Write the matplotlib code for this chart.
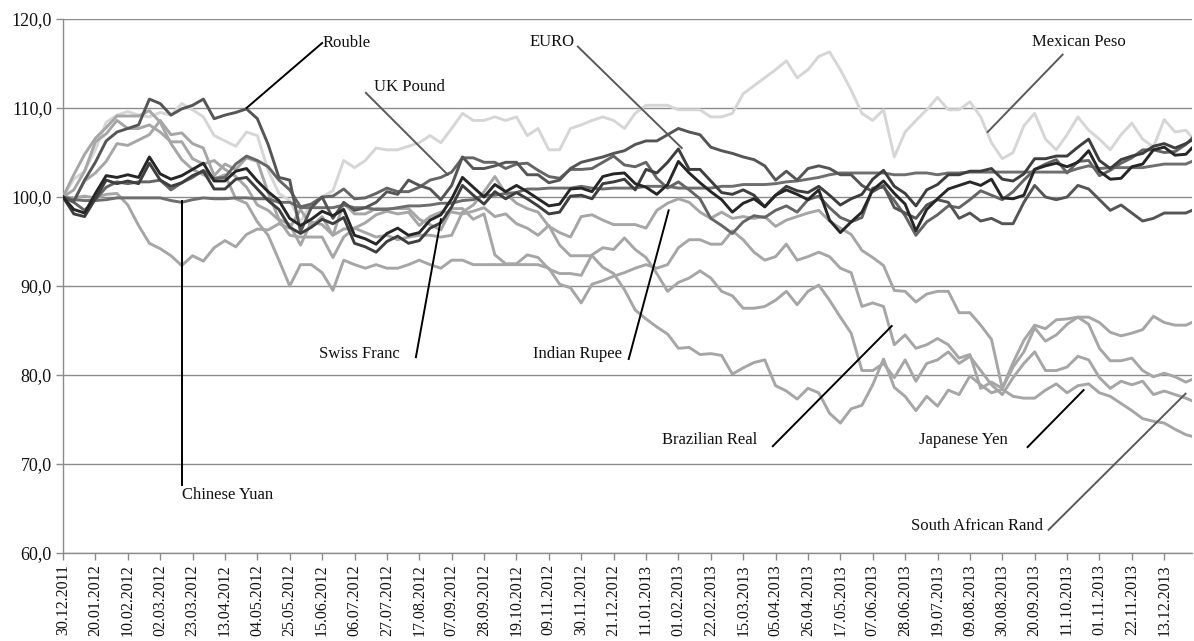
import numpy as np
import pandas as pd
import matplotlib
matplotlib.use("Agg")
import matplotlib.pyplot as plt
import matplotlib.dates as mdates
from matplotlib.ticker import FuncFormatter

plt.rcParams['font.family'] = ['Liberation Serif', 'DejaVu Serif']

# weekly observations (Fridays) from 30.12.2011, plus 31.12.2013
dates = list(pd.date_range('2011-12-30', periods=105, freq='7D')) + [pd.Timestamp('2013-12-31')]

euro = [100.0, 98.1, 97.8, 99.8, 101.9, 101.5, 101.8, 101.5, 103.8, 101.9,
        101.2, 101.6, 102.4, 102.9, 100.9, 100.9, 102.0, 102.2, 100.9, 99.6,
        98.6, 96.6, 95.9, 96.6, 97.5, 97.0, 97.7, 94.8, 94.4, 93.8,
        95.0, 95.6, 94.8, 95.1, 96.5, 97.1, 98.9, 101.3, 100.2, 99.2,
        100.6, 99.8, 100.5, 99.8, 99.0, 98.1, 98.3, 100.1, 100.2, 99.8,
        101.5, 101.7, 102.0, 100.8, 103.1, 102.7, 103.9, 105.4, 103.1, 103.1,
        101.8, 100.5, 100.3, 100.8, 100.2, 98.9, 100.2, 101.2, 100.7, 100.5,
        101.2, 100.2, 99.1, 99.8, 100.3, 102.0, 103.0, 101.2, 100.4, 99.0,
        100.8, 101.4, 102.5, 102.5, 102.9, 102.9, 103.2, 102.0, 101.8, 102.6,
        104.3, 104.3, 104.6, 104.6, 105.6, 106.5, 104.1, 103.2, 104.2, 104.6,
        104.9, 105.7, 106.0, 105.5, 106.0, 106.4]

swiss_franc = [100.0, 98.6, 98.2, 100.4, 102.4, 102.2, 102.5, 102.2, 104.5, 102.6,
               102.0, 102.4, 103.1, 103.8, 101.8, 101.8, 102.9, 103.2, 101.8, 100.6,
               99.6, 97.6, 96.8, 97.5, 98.4, 97.9, 98.6, 95.7, 95.3, 94.7,
               95.9, 96.5, 95.7, 96.0, 97.4, 98.0, 99.8, 102.2, 101.1, 100.0,
               101.4, 100.6, 101.3, 100.6, 99.8, 99.0, 99.2, 100.9, 101.0, 100.6,
               102.3, 102.6, 102.7, 101.5, 101.1, 100.3, 101.4, 104.0, 102.7, 101.6,
               100.6, 99.7, 98.3, 99.3, 99.8, 98.9, 100.2, 100.8, 100.3, 99.7,
               100.8, 97.4, 96.0, 97.2, 98.3, 100.8, 101.8, 100.4, 99.2, 96.2,
               98.6, 99.8, 100.9, 101.3, 101.7, 101.3, 102.0, 99.9, 99.8, 100.2,
               103.1, 103.5, 103.8, 103.4, 103.9, 105.2, 102.9, 102.0, 102.1, 103.4,
               103.7, 105.3, 105.6, 104.7, 104.8, 105.5]

uk_pound = [100.0, 99.4, 98.5, 99.7, 101.1, 101.7, 101.5, 101.7, 101.7, 101.9,
            100.8, 101.6, 102.2, 103.0, 102.1, 102.2, 103.7, 104.6, 104.1, 103.4,
            101.9, 100.8, 98.9, 99.2, 100.0, 100.1, 100.9, 99.8, 99.9, 100.4,
            101.0, 100.6, 100.6, 101.1, 101.9, 102.2, 102.8, 104.4, 104.4, 103.9,
            103.9, 103.2, 103.7, 103.8, 103.0, 102.3, 102.1, 103.1, 103.1, 103.2,
            103.9, 104.6, 103.6, 103.4, 103.9, 102.1, 101.0, 101.7, 100.8, 99.8,
            97.6, 96.8, 95.9, 97.2, 97.9, 97.7, 98.5, 99.0, 98.3, 99.7,
            100.1, 98.8, 97.7, 97.2, 97.7, 101.0, 101.1, 99.6, 97.9, 95.7,
            97.2, 98.0, 99.0, 98.8, 99.7, 100.7, 100.2, 99.7, 100.6, 101.9,
            103.1, 103.7, 104.2, 102.7, 104.0, 104.1, 102.4, 103.0, 103.8, 104.4,
            105.3, 105.3, 105.0, 105.1, 105.9, 106.6]

rouble = [100.0, 99.5, 101.9, 103.9, 106.3, 107.3, 107.7, 108.1, 111.0, 110.5,
          109.2, 109.9, 110.3, 111.0, 108.8, 109.2, 109.5, 109.9, 108.8, 105.9,
          102.2, 101.9, 96.1, 98.8, 100.0, 97.6, 99.4, 98.5, 98.8, 99.4,
          100.6, 100.3, 101.9, 101.3, 100.9, 99.7, 101.3, 104.5, 103.2, 103.2,
          103.5, 103.9, 103.9, 102.5, 102.5, 101.6, 101.9, 103.2, 103.9, 104.2,
          104.5, 104.9, 105.2, 105.9, 106.3, 106.3, 107.0, 107.7, 107.3, 107.0,
          105.6, 105.2, 104.9, 104.5, 104.2, 103.5, 101.9, 102.9, 101.9, 103.2,
          103.5, 103.2, 102.5, 102.5, 101.3, 100.6, 101.3, 98.8, 98.2, 97.6,
          99.1, 99.7, 99.4, 97.6, 98.2, 97.3, 97.6, 97.0, 97.0, 99.4,
          101.3, 100.0, 99.7, 100.0, 101.3, 100.9, 99.7, 98.5, 99.1, 98.2,
          97.3, 97.6, 98.2, 98.2, 98.2, 98.5]

indian_rupee = [100.0, 100.8, 102.9, 106.2, 107.1, 108.6, 107.7, 107.7, 108.1, 107.3,
                106.2, 106.2, 104.3, 103.7, 104.1, 103.1, 102.3, 101.1, 99.1, 98.5,
                97.4, 95.7, 95.5, 95.5, 95.5, 93.2, 95.5, 96.5, 96.0, 95.5,
                95.7, 95.2, 95.5, 95.7, 95.7, 95.5, 95.7, 98.3, 99.1, 100.6,
                102.3, 100.4, 99.3, 98.7, 98.3, 96.7, 96.0, 95.5, 97.8, 98.0,
                97.4, 96.9, 96.9, 96.9, 96.5, 98.5, 99.3, 99.8, 99.4, 98.3,
                97.6, 98.3, 97.6, 97.8, 97.6, 97.8, 96.7, 97.4, 97.8, 98.2,
                98.5, 97.3, 96.5, 95.8, 94.0, 93.2, 92.3, 89.5, 89.4, 88.2,
                89.1, 89.4, 89.4, 87.0, 87.0, 85.6, 84.0, 78.5, 81.4, 83.9,
                85.6, 85.2, 86.2, 86.3, 86.5, 86.5, 85.9, 84.8, 84.4, 84.7,
                85.1, 86.6, 85.9, 85.6, 85.6, 85.9]

mexican_peso = [100.0, 102.0, 102.9, 105.3, 108.4, 109.2, 109.6, 109.2, 109.0, 109.5,
                109.2, 110.5, 109.8, 109.0, 106.9, 106.3, 105.7, 107.3, 106.9, 103.0,
                100.4, 99.6, 97.2, 99.3, 100.0, 100.7, 104.1, 103.3, 104.1, 105.5,
                105.3, 105.3, 105.7, 106.1, 106.9, 106.1, 107.7, 109.4, 108.6, 108.6,
                109.0, 108.6, 109.0, 106.9, 107.7, 105.3, 105.3, 107.7, 108.1, 108.6,
                109.0, 108.6, 107.7, 109.4, 110.3, 110.3, 110.3, 109.8, 109.8, 109.8,
                109.0, 109.0, 109.4, 111.6, 112.5, 113.4, 114.3, 115.3, 113.4, 114.3,
                115.8, 116.3, 114.3, 112.0, 109.4, 108.6, 109.8, 104.5, 107.3, 108.6,
                109.8, 111.2, 109.8, 109.8, 110.7, 109.0, 106.1, 104.3, 105.0, 108.0,
                109.4, 106.5, 105.3, 107.0, 109.0, 107.5, 106.5, 105.3, 107.0, 108.3,
                106.5, 105.6, 108.7, 107.3, 107.5, 106.7]

brazilian_real = [100.0, 102.5, 104.8, 106.6, 107.8, 109.1, 109.1, 109.1, 109.7, 108.4,
                  106.0, 104.2, 103.1, 102.5, 102.0, 102.5, 99.8, 99.3, 97.2, 95.7,
                  92.9, 90.0, 92.4, 92.4, 91.5, 89.5, 92.9, 92.4, 92.0, 92.4,
                  92.0, 92.0, 92.4, 92.9, 92.4, 92.0, 92.9, 92.9, 92.4, 92.4,
                  92.4, 92.4, 92.4, 92.4, 92.4, 92.0, 90.2, 89.8, 88.1, 90.2,
                  90.6, 91.1, 91.5, 92.0, 92.4, 92.0, 92.4, 94.3, 95.2, 95.2,
                  94.7, 94.7, 96.2, 95.2, 93.8, 92.9, 93.3, 94.7, 92.9, 93.3,
                  93.8, 93.3, 92.0, 91.5, 87.7, 88.1, 87.7, 83.4, 84.5, 83.0,
                  83.4, 84.1, 83.4, 81.9, 82.3, 78.5, 79.2, 78.5, 80.9, 82.6,
                  85.3, 83.8, 84.5, 85.7, 86.5, 85.7, 83.0, 81.6, 81.6, 81.9,
                  80.5, 79.8, 80.2, 79.8, 79.2, 79.5]

south_african_rand = [100.0, 99.6, 101.8, 102.7, 104.0, 106.0, 105.8, 106.4, 107.0, 108.6,
                      107.0, 107.2, 106.0, 105.5, 102.4, 103.7, 103.1, 104.4, 104.0, 100.5,
                      97.5, 96.9, 94.6, 97.2, 96.9, 95.7, 99.3, 98.1, 98.1, 98.7,
                      98.7, 98.7, 98.7, 97.5, 96.9, 96.3, 98.7, 98.7, 97.5, 98.1,
                      93.5, 92.5, 92.5, 93.5, 93.2, 91.9, 91.4, 91.4, 91.2, 93.5,
                      94.3, 94.1, 95.4, 94.1, 93.2, 91.4, 89.4, 90.4, 90.9, 91.7,
                      90.9, 89.4, 88.9, 87.5, 87.5, 87.7, 88.4, 89.4, 87.9, 89.4,
                      90.1, 88.4, 86.5, 84.7, 80.5, 80.5, 81.3, 79.7, 81.7, 79.3,
                      81.3, 81.7, 82.6, 81.3, 82.1, 80.5, 78.9, 77.8, 79.7, 81.3,
                      82.6, 80.5, 80.5, 80.9, 82.1, 81.7, 79.7, 78.5, 79.3, 78.9,
                      79.3, 77.8, 78.2, 77.8, 77.4, 77.1]

japanese_yen = [100.0, 99.9, 100.1, 99.9, 100.3, 100.4, 99.1, 96.8, 94.8, 94.2,
                93.4, 92.3, 93.4, 92.8, 94.3, 95.1, 94.4, 95.8, 96.4, 96.3,
                97.0, 96.5, 98.6, 96.7, 97.8, 95.7, 96.4, 96.5, 97.1, 98.0,
                98.4, 98.1, 98.3, 96.8, 97.8, 98.3, 98.3, 98.1, 98.4, 98.8,
                97.8, 98.1, 97.0, 96.5, 95.7, 96.8, 94.6, 93.4, 93.4, 93.4,
                92.1, 91.4, 89.6, 87.3, 86.3, 85.4, 84.6, 83.0, 83.1, 82.3,
                82.4, 82.2, 80.1, 80.8, 81.4, 81.7, 78.8, 78.2, 77.3, 78.5,
                78.0, 75.7, 74.6, 76.2, 76.6, 78.9, 81.8, 78.6, 77.6, 76.0,
                77.6, 76.5, 78.3, 77.8, 79.9, 78.9, 78.0, 78.4, 77.6, 77.4,
                77.4, 78.3, 79.0, 78.0, 78.8, 79.0, 78.0, 77.6, 76.8, 76.0,
                75.1, 74.8, 74.6, 73.9, 73.3, 73.1]

chinese_yuan = [100.0, 99.7, 99.6, 99.6, 99.7, 99.9, 99.9, 99.9, 99.9, 99.9,
                99.6, 99.4, 99.7, 99.9, 99.8, 99.8, 99.9, 99.9, 99.8, 99.8,
                99.4, 99.4, 98.8, 98.8, 98.8, 98.8, 99.1, 98.8, 98.8, 98.6,
                98.6, 98.8, 99.0, 99.0, 99.1, 99.3, 99.3, 99.6, 99.7, 100.2,
                100.2, 100.4, 100.5, 100.9, 100.9, 101.0, 101.0, 101.0, 101.2, 101.0,
                100.9, 101.0, 101.0, 101.0, 101.2, 101.2, 101.2, 101.0, 101.0, 101.0,
                101.0, 101.2, 101.2, 101.4, 101.4, 101.4, 101.5, 101.7, 101.8, 102.0,
                102.2, 102.5, 102.7, 102.7, 102.7, 102.7, 102.7, 102.5, 102.5, 102.7,
                102.7, 102.5, 102.7, 102.7, 102.8, 102.8, 102.8, 102.8, 102.8, 102.8,
                102.8, 102.8, 102.8, 102.8, 103.2, 103.5, 103.2, 103.3, 103.3, 103.3,
                103.3, 103.5, 103.7, 103.7, 103.7, 104.0]

# drawing order (first = bottom) and grey shades
series = [
    ("Mexican Peso", mexican_peso, "#d6d6d6"),
    ("Indian Rupee", indian_rupee, "#a6a6a6"),
    ("Brazilian Real", brazilian_real, "#a6a6a6"),
    ("South African Rand", south_african_rand, "#a6a6a6"),
    ("Japanese Yen", japanese_yen, "#a6a6a6"),
    ("Chinese Yuan", chinese_yuan, "#6e6e6e"),
    ("UK Pound", uk_pound, "#656565"),
    ("Rouble", rouble, "#555555"),
    ("EURO", euro, "#3e3e3e"),
    ("Swiss Franc", swiss_franc, "#262626"),
]

# annotations: label, text (day offset, value), ha, leader from (day, value) to (day, value), leader colour
base = pd.Timestamp('2011-12-30')
annotations = [
    ("Rouble", (168, 117.3), "left", (168, 117.3), (119, 110.0), "black"),
    ("UK Pound", (201.6, 112.4), "left", (196.4, 111.7), (249.5, 102.5), "#595959"),
    ("EURO", (302.7, 117.4), "left", (333.8, 116.9), (401.2, 105.5), "#595959"),
    ("Mexican Peso", (628, 117.4), "left", (648.1, 116.0), (599.5, 107.3), "#595959"),
    ("Swiss Franc", (218.4, 82.4), "right", (228.8, 82.0), (245, 97.5), "black"),
    ("Indian Rupee", (362.3, 82.4), "right", (366.8, 81.8), (392.7, 98.5), "black"),
    ("Brazilian Real", (450.4, 72.7), "right", (460.2, 72.0), (537.3, 85.5), "black"),
    ("Japanese Yen", (612.5, 72.7), "right", (625.4, 71.9), (661.7, 78.3), "black"),
    ("South African Rand", (635.1, 63.0), "right", (639.0, 62.6), (727.8, 77.9), "#595959"),
    ("Chinese Yuan", (77.1, 66.5), "left", (77.1, 67.6), (77.1, 99.6), "black"),
]

W, H = 1194, 641
fig = plt.figure(figsize=(W / 100, H / 100), dpi=100)
ax = fig.add_axes([63 / W, 1 - 553 / H, (1192 - 63) / W, (553 - 19) / H])

grid_c = "#8c8c8c"
for v in range(60, 121, 10):
    ax.axhline(v, color=grid_c, lw=1.0, zorder=1)

for name, vals, col in series:
    ax.plot(dates, vals, color=col, lw=2.1, zorder=3, solid_joinstyle='round')

def d2x(d):
    return mdates.date2num(base + pd.Timedelta(days=d))

for label, (tx, ty), ha, (x0, y0), (x1, y1), lc in annotations:
    ax.plot([d2x(x0), d2x(x1)], [y0, y1], color=lc, lw=1.4, zorder=5)
    ax.text(d2x(tx), ty, label, ha=ha, va="center", fontsize=12, color="#111111", zorder=6)

ax.set_ylim(60, 120)
ax.set_yticks(range(60, 121, 10))
ax.yaxis.set_major_formatter(FuncFormatter(lambda v, p: f"{v:.1f}".replace(".", ",")))
ax.set_xlim(mdates.date2num(base), mdates.date2num(pd.Timestamp('2013-12-31')))
ticks = pd.date_range('2011-12-30', '2013-12-31', freq='21D')
ax.set_xticks(mdates.date2num(ticks))
ax.set_xticklabels([t.strftime('%d.%m.%Y') for t in ticks], rotation=90)

for s in ["top", "right"]:
    ax.spines[s].set_visible(False)
for s in ["left", "bottom"]:
    ax.spines[s].set_color(grid_c)
    ax.spines[s].set_linewidth(1.0)
ax.tick_params(axis="both", direction="out", length=5, width=1.0, color=grid_c,
               labelcolor="#111111")
ax.tick_params(axis="x", pad=3, labelsize=11.5)
ax.tick_params(axis="y", pad=3, labelsize=13)

fig.savefig("out.png", dpi=100)
